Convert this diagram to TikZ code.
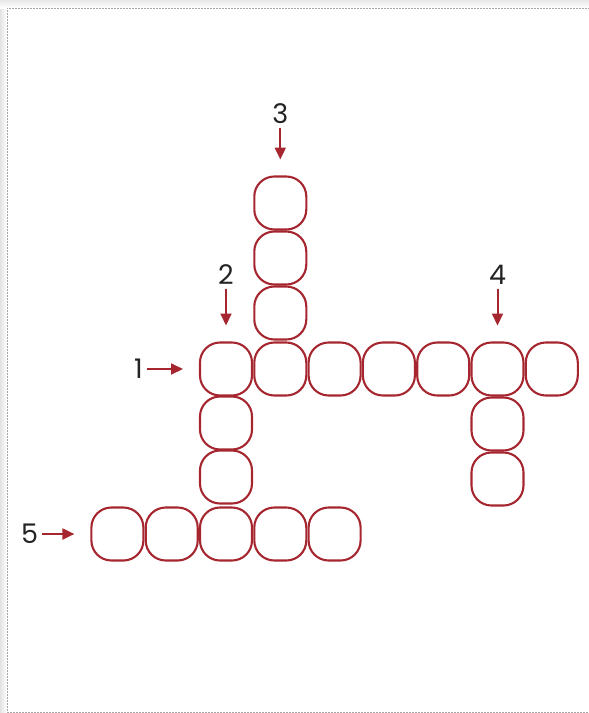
\documentclass[tikz,border=0pt]{standalone}
\usepackage{fontspec}
\setmainfont{Poppins}
\usetikzlibrary{arrows.meta,positioning}

\definecolor{cellred}{RGB}{166,38,48}
\definecolor{numgray}{RGB}{35,35,35}

\begin{document}
\begin{tikzpicture}[
  x=1pt, y=-1pt,
  >={Triangle[length=12pt, width=11pt]},
  cell/.style={draw=cellred, line width=2.1pt, rounded corners=20pt, minimum width=52pt, minimum height=53pt, inner sep=0pt, outer sep=0pt},
  num/.style={text=numgray, inner sep=0pt, font=\fontsize{27}{30}\selectfont},
  pointer/.style={->, draw=cellred, line width=2pt, shorten <=4pt, shorten >=17pt},
]
\useasboundingbox (0,0) rectangle (589,713);

% Page
\shade[left color=gray!22, right color=white] (0,8) rectangle (7,713);
\shade[top color=gray!18, bottom color=white] (0,0) rectangle (589,8);
\draw[gray!70, line width=0.8pt, dash pattern=on 2pt off 1pt] (620,8) -- (7,8) -- (7,712) -- (620,712);

% Row 1
\node[cell]                     (A1) at (226, 369) {};
\node[cell, right=2.3pt of A1]  (A2) {};
\node[cell, right=2.3pt of A2]  (A3) {};
\node[cell, right=2.3pt of A3]  (A4) {};
\node[cell, right=2.3pt of A4]  (A5) {};
\node[cell, right=2.3pt of A5]  (A6) {};
\node[cell, right=2.3pt of A6]  (A7) {};

% Column up from A2
\node[cell, above=3pt of A2]    (U3) {};
\node[cell, above=2pt of U3]    (U2) {};
\node[cell, above=2pt of U2]    (U1) {};

% Column down from A1
\node[cell, below=1pt of A1]    (D1) {};
\node[cell, below=1pt of D1]    (D2) {};

% Column down from A6
\node[cell, below=2pt of A6]    (E1) {};
\node[cell, below=2pt of E1]    (E2) {};

% Row 5
\node[cell, below=4pt of D2]    (B3) {};
\node[cell, left=2.3pt of B3]   (B2) {};
\node[cell, left=2.3pt of B2]   (B1) {};
\node[cell, right=2.3pt of B3]  (B4) {};
\node[cell, right=2.3pt of B4]  (B5) {};

% Numbers and pointers
\node[num, left=57pt of A1]     (n1) {1};
\node[num, above=58pt of A1]    (n2) {2};
\node[num, above=53pt of U1]    (n3) {3};
\node[num, above=58pt of A6]    (n4) {4};
\node[num, left=53pt of B1]     (n5) {5};

\draw[pointer] (n1) -- (A1);
\draw[pointer] (n2) -- (A1);
\draw[pointer] (n3) -- (U1);
\draw[pointer] (n4) -- (A6);
\draw[pointer] (n5) -- (B1);

\end{tikzpicture}
\end{document}
